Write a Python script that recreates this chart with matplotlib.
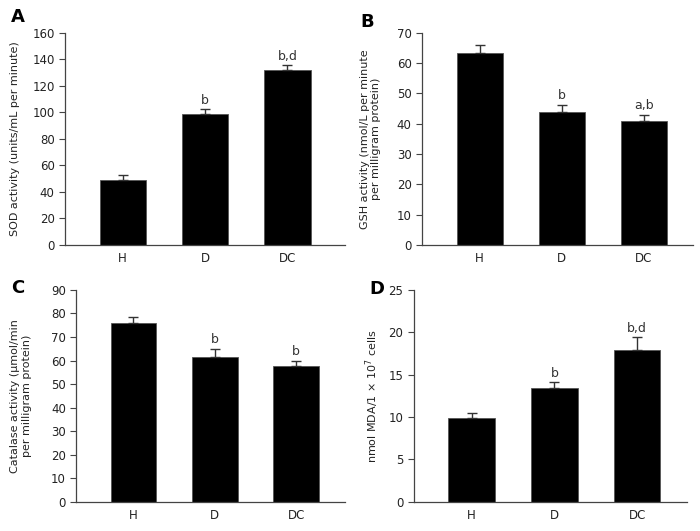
import matplotlib
matplotlib.use('Agg')
import matplotlib.pyplot as plt

groups = ['H', 'D', 'DC']

sod = [49, 99, 132]
sod_err = [3.5, 3.5, 3.5]
sod_sig = ['', 'b', 'b,d']

gsh = [63.5, 44, 41]
gsh_err = [2.5, 2.2, 2.0]
gsh_sig = ['', 'b', 'a,b']

cat = [76, 61.5, 57.5]
cat_err = [2.5, 3.5, 2.5]
cat_sig = ['', 'b', 'b']

mda = [9.9, 13.4, 17.9]
mda_err = [0.6, 0.7, 1.5]
mda_sig = ['', 'b', 'b,d']

plt.rcParams['font.family'] = 'DejaVu Sans'
fig = plt.figure(figsize=(7, 5.31), dpi=100)

# letter, axes rect, values, errors, marks, ymax, step, ylabel, xlim, ylabel x, letter pos
panels = [
    ('A', [0.093, 0.539, 0.400, 0.399], sod, sod_err, sod_sig, 160, 20,
     'SOD activity (units/mL per minute)', (-0.7, 2.7), -0.16, (0.026, 0.968)),
    ('B', [0.603, 0.539, 0.387, 0.399], gsh, gsh_err, gsh_sig, 70, 10,
     'GSH activity (nmol/L per minute\nper milligram protein)', (-0.7, 2.6), -0.15, (0.524, 0.958)),
    ('C', [0.109, 0.055, 0.384, 0.399], cat, cat_err, cat_sig, 90, 10,
     'Catalase activity (μmol/min\nper milligram protein)', (-0.7, 2.6), -0.165, (0.026, 0.458)),
    ('D', [0.591, 0.055, 0.390, 0.399], mda, mda_err, mda_sig, 25, 5,
     'nmol MDA/1 × 10$^7$ cells', (-0.7, 2.6), -0.118, (0.538, 0.455)),
]

for letter, rect, vals, errs, sigs, ymax, step, ylabel, xlim, labx, lpos in panels:
    ax = fig.add_axes(rect)
    x = range(len(groups))
    ax.bar(x, vals, width=0.56, color='black', edgecolor='#555555', linewidth=0.6,
           yerr=[[0] * len(errs), errs], capsize=3.5,
           error_kw=dict(ecolor='#333333', elinewidth=1, capthick=1))
    for xi, v, e, s in zip(x, vals, errs, sigs):
        if s:
            ax.text(xi, v + e + ymax * 0.012, s, ha='center', va='bottom',
                    fontsize=9, color='#333333')
    ax.set_xlim(*xlim)
    ax.set_ylim(0, ymax)
    ax.set_yticks(range(0, ymax + 1, step))
    ax.set_xticks(list(x))
    ax.set_xticklabels(groups)
    ax.spines['top'].set_visible(False)
    ax.spines['right'].set_visible(False)
    for sp in ('left', 'bottom'):
        ax.spines[sp].set_color('#444444')
        ax.spines[sp].set_linewidth(0.9)
    ax.tick_params(axis='y', direction='out', length=4, colors='#444444',
                   labelsize=8.5, labelcolor='#222222')
    ax.tick_params(axis='x', length=0, pad=5, labelsize=8.5, labelcolor='#222222')
    ax.set_ylabel(ylabel, fontsize=8, color='#222222')
    ax.yaxis.set_label_coords(labx, 0.5)
    fig.text(lpos[0], lpos[1], letter, fontsize=13, fontweight='bold',
             ha='center', va='center')

fig.savefig('out.png', dpi=100)
